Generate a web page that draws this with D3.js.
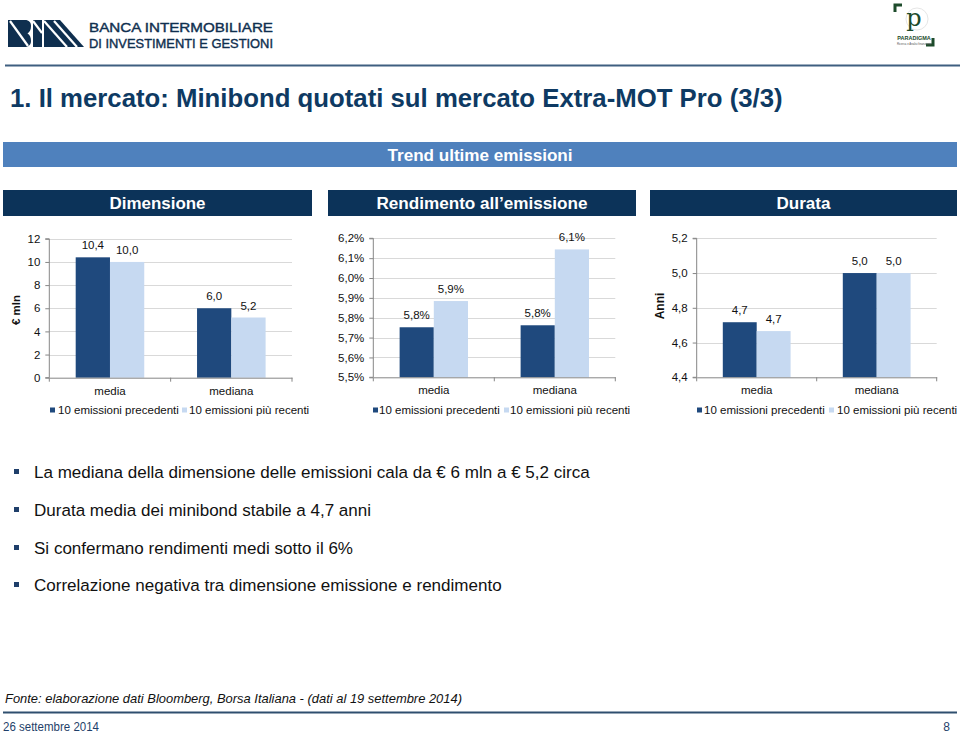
<!DOCTYPE html>
<html><head><meta charset="utf-8">
<script src="https://cdn.jsdelivr.net/npm/d3@7"></script>
<style>body{margin:0;background:#fff} svg{display:block;font-family:"Liberation Sans",Arial,sans-serif}</style>
</head><body><svg id="c" width="960" height="735"></svg>
<script>
// ---------- data ----------
const categories = ["media", "mediana"];
const seriesNames = ["10 emissioni precedenti", "10 emissioni più recenti"];
const dimPrecedenti = [10.4, 6.0];
const dimRecenti = [10.0, 5.2];
const rendPrecedenti = [5.752, 5.762];
const rendRecenti = [5.884, 6.144];
const durPrecedenti = [4.717, 5.0];
const durRecenti = [4.666, 5.0];
const dimTicks = [0, 2, 4, 6, 8, 10, 12];
const rendTicks = [5.5, 5.6, 5.7, 5.8, 5.9, 6.0, 6.1, 6.2];
const durTicks = [4.4, 4.6, 4.8, 5.0, 5.2];
const sectionTitles = ["Dimensione", "Rendimento all\u2019emissione", "Durata"];
const bullets = [
  "La mediana della dimensione delle emissioni cala da \u20ac 6 mln a \u20ac 5,2 circa",
  "Durata media dei minibond stabile a 4,7 anni",
  "Si confermano rendimenti medi sotto il 6%",
  "Correlazione negativa tra dimensione emissione e rendimento"
];
const titleText = "1. Il mercato: Minibond quotati sul mercato Extra-MOT Pro (3/3)";
const bannerText = "Trend ultime emissioni";
const sourceText = "Fonte: elaborazione dati Bloomberg, Borsa Italiana - (dati al 19 settembre 2014)";
const dateText = "26 settembre 2014";
const pageText = "8";

// ---------- styles ----------
const NAVY = "#0c3359", DARK = "#1f497d", LIGHT = "#c6d9f1";
const loc = d3.formatLocale({decimal: ",", thousands: ".", grouping: [3], currency: ["\u20ac", ""]});
const f1 = loc.format(".1f"), f0 = loc.format("d");

const svg = d3.select("#c");

function fitText(sel, target) {
  const n = sel.node(); const w = n.getComputedTextLength();
  const fs = parseFloat(sel.attr("font-size"));
  sel.attr("font-size", (fs * target / w).toFixed(2));
  return fs * target / w;
}

// ---------- header ----------
const logo = svg.append("g").attr("fill", "#0f2f4f");
logo.append("path").attr("d", "M8,20 H25 C29,20 31,22.5 31,26 C31,30 29.5,32 27.5,33.5 C30,35 31,37.5 31,41 C31,45 28,47 25,47 H8 Z");
logo.append("path").attr("d", "M33,20 H42 V47 H33 Z");
logo.append("path").attr("d", "M44,20 H60 L84,47 H44 Z");
const cut = svg.append("g").attr("stroke", "#fff").attr("stroke-width", 2.2);
cut.append("line").attr("x1", 10).attr("y1", 21).attr("x2", 28).attr("y2", 46);
cut.append("line").attr("x1", 33).attr("y1", 21).attr("x2", 42).attr("y2", 33);
cut.append("line").attr("x1", 44).attr("y1", 21).attr("x2", 67).attr("y2", 47);
cut.append("line").attr("x1", 54).attr("y1", 21).attr("x2", 77).attr("y2", 47);
svg.append("text").attr("x", 89).attr("y", 32).attr("font-size", 13.5).attr("fill", "#0f2f4f")
  .attr("stroke", "#0f2f4f").attr("stroke-width", 0.4)
  .attr("textLength", 184).attr("lengthAdjust", "spacingAndGlyphs").text("BANCA INTERMOBILIARE");
svg.append("text").attr("x", 89).attr("y", 47.5).attr("font-size", 13.5).attr("fill", "#0f2f4f")
  .attr("stroke", "#0f2f4f").attr("stroke-width", 0.4)
  .attr("textLength", 184).attr("lengthAdjust", "spacingAndGlyphs").text("DI INVESTIMENTI E GESTIONI");

// paradigma logo
const pg = svg.append("g");
pg.append("circle").attr("cx", 917).attr("cy", 19).attr("r", 11).attr("fill", "none").attr("stroke", "#e6e6e6").attr("stroke-width", 1);
pg.append("path").attr("d", "M895,12 V5 H902").attr("fill", "none").attr("stroke", "#1d4b2b").attr("stroke-width", 3);
pg.append("path").attr("d", "M926,45 H933 V38").attr("fill", "none").attr("stroke", "#1d4b2b").attr("stroke-width", 3);
pg.append("text").attr("x", 914).attr("y", 26).attr("text-anchor", "middle").attr("font-family", "DejaVu Serif, serif")
  .attr("font-size", 24).attr("fill", "#1d4b2b").text("p");
pg.append("text").attr("x", 914).attr("y", 40).attr("text-anchor", "middle").attr("font-size", 5.5).attr("font-weight", "bold")
  .attr("fill", "#1d4b2b").text("PARADIGMA");
pg.append("text").attr("x", 914).attr("y", 44.5).attr("text-anchor", "middle").attr("font-size", 2.8)
  .attr("fill", "#555").text("Ricerca e Analisi finanziaria");

svg.append("line").attr("x1", 5).attr("x2", 960).attr("y1", 65.5).attr("y2", 65.5).attr("stroke", "#3f5f80").attr("stroke-width", 2);

const title = svg.append("text").attr("x", 10).attr("y", 107).attr("font-size", 25).attr("font-weight", "bold")
  .attr("fill", "#0e3a63").text(titleText);
fitText(title, 773);

// banner
svg.append("rect").attr("x", 3).attr("y", 142).attr("width", 954).attr("height", 25).attr("fill", "#4f81bd");
svg.append("text").attr("x", 480).attr("y", 160.5).attr("text-anchor", "middle").attr("font-size", 16).attr("font-weight", "bold")
  .attr("fill", "#fff").attr("textLength", 185).attr("lengthAdjust", "spacingAndGlyphs").text(bannerText);

const sectionBoxes = [[3, 312, 96], [328, 636, 211], [650, 957, 54]];
sectionBoxes.forEach((b, i) => {
  svg.append("rect").attr("x", b[0]).attr("y", 190).attr("width", b[1] - b[0]).attr("height", 26).attr("fill", NAVY);
  svg.append("text").attr("x", (b[0] + b[1]) / 2).attr("y", 209).attr("text-anchor", "middle").attr("font-size", 16)
    .attr("font-weight", "bold").attr("fill", "#fff").attr("textLength", b[2]).attr("lengthAdjust", "spacingAndGlyphs")
    .text(sectionTitles[i]);
});

// ---------- charts ----------
const charts = [
  {left: 49.3, right: 292, top: 238.8, bottom: 377.7, ticks: dimTicks, tickFmt: f0, labelFmt: f1,
   series: [dimPrecedenti, dimRecenti], yTitle: "\u20ac mln", yTitleX: 19.5, yTitleY: 310, yTitleSize: 11.5,
   legend: [50, 58, 182, 189]},
  {left: 373.3, right: 615.3, top: 238.3, bottom: 377.3, ticks: rendTicks, tickFmt: v => f1(v) + "%", labelFmt: v => f1(v) + "%",
   series: [rendPrecedenti, rendRecenti], yTitle: null,
   legend: [373, 379, 504, 510]},
  {left: 696.7, right: 936.7, top: 238.3, bottom: 377.3, ticks: durTicks, tickFmt: f1, labelFmt: f1,
   series: [durPrecedenti, durRecenti], yTitle: "Anni", yTitleX: 664, yTitleY: 306, yTitleSize: 12,
   legend: [697, 704, 829, 837]}
];
const colors = [DARK, LIGHT];
const FS = 11.5;

charts.forEach(c => {
  const g = svg.append("g");
  const y = d3.scaleLinear().domain(d3.extent(c.ticks)).range([c.bottom, c.top]);
  const x0 = d3.scaleBand().domain(categories).range([c.left, c.right]).padding(0);
  const x1 = d3.scaleBand().domain(d3.range(c.series.length)).range([0, x0.bandwidth()]).paddingInner(0).paddingOuter(0.77);

  // gridlines
  g.selectAll("line.grid").data(c.ticks.slice(1)).join("line").attr("class", "grid")
    .attr("x1", c.left).attr("x2", c.right).attr("y1", d => Math.round(y(d)) + 0.5).attr("y2", d => Math.round(y(d)) + 0.5)
    .attr("stroke", "#d9d9d9").attr("stroke-width", 1);

  // bars
  c.series.forEach((vals, si) => {
    g.selectAll(null).data(categories).join("rect")
      .attr("x", d => x0(d) + x1(si)).attr("width", x1.bandwidth())
      .attr("y", (d, i) => y(vals[i])).attr("height", (d, i) => c.bottom - y(vals[i]))
      .attr("fill", colors[si]);
    g.selectAll(null).data(categories).join("text")
      .attr("x", d => x0(d) + x1(si) + x1.bandwidth() / 2).attr("y", (d, i) => y(vals[i]) - 8)
      .attr("text-anchor", "middle").attr("font-size", FS).attr("fill", "#111")
      .text((d, i) => c.labelFmt(vals[i]));
  });

  // y axis
  const ya = g.append("g").attr("transform", `translate(${c.left},0)`)
    .call(d3.axisLeft(y).tickValues(c.ticks).tickSize(4).tickPadding(5).tickFormat(c.tickFmt));
  ya.select(".domain").attr("stroke", "#868686").attr("d", `M-4,${c.bottom}H0V${c.top}H-4`);
  ya.selectAll(".tick line").attr("stroke", "#868686");
  ya.selectAll(".tick text").attr("font-size", FS).attr("fill", "#111").attr("font-family", "Liberation Sans, Arial, sans-serif");

  // x axis
  const xa = g.append("g").attr("transform", `translate(0,${c.bottom})`)
    .call(d3.axisBottom(x0).tickSize(0).tickPadding(9));
  xa.select(".domain").attr("stroke", "#868686");
  xa.selectAll(".tick text").attr("font-size", FS).attr("fill", "#111").attr("font-family", "Liberation Sans, Arial, sans-serif");
  const edges = categories.map(d => x0(d)).concat([c.right]);
  xa.selectAll("line.edge").data(edges).join("line").attr("class", "edge")
    .attr("x1", d => d).attr("x2", d => d).attr("y1", 0).attr("y2", 4).attr("stroke", "#868686");

  // y title
  if (c.yTitle) {
    g.append("text").attr("transform", `translate(${c.yTitleX},${c.yTitleY}) rotate(-90)`).attr("text-anchor", "middle")
      .attr("font-size", c.yTitleSize).attr("font-weight", "bold").attr("fill", "#111").text(c.yTitle);
  }

  // legend
  seriesNames.forEach((s, si) => {
    g.append("rect").attr("x", c.legend[si * 2]).attr("y", 407.5).attr("width", 5).attr("height", 5).attr("fill", colors[si]);
    g.append("text").attr("x", c.legend[si * 2 + 1]).attr("y", 414).attr("font-size", FS).attr("fill", "#111").text(s);
  });
});

// ---------- bullets ----------
const bulletY = [478, 516, 554, 591];
let bfs = null;
bullets.forEach((b, i) => {
  svg.append("rect").attr("x", 14).attr("y", bulletY[i] - 9).attr("width", 5).attr("height", 5).attr("fill", "#1f3f6a");
  const t = svg.append("text").attr("x", 34).attr("y", bulletY[i]).attr("font-size", 16).attr("fill", "#111").text(b);
  if (i === 0) bfs = fitText(t, 556); else t.attr("font-size", bfs.toFixed(2));
});

// ---------- footer ----------
svg.append("text").attr("x", 5).attr("y", 703).attr("font-size", 13).attr("font-style", "italic").attr("fill", "#111")
  .attr("textLength", 457).attr("lengthAdjust", "spacingAndGlyphs").text(sourceText);
svg.append("line").attr("x1", 3).attr("x2", 957).attr("y1", 712.5).attr("y2", 712.5).attr("stroke", "#2f4f6f").attr("stroke-width", 2);
svg.append("text").attr("x", 3).attr("y", 731).attr("font-size", 12).attr("fill", "#1f3f6a")
  .attr("textLength", 96).attr("lengthAdjust", "spacingAndGlyphs").text(dateText);
svg.append("text").attr("x", 950).attr("y", 731).attr("text-anchor", "end").attr("font-size", 12).attr("fill", "#1f3f6a").text(pageText);
</script>
</body></html>
